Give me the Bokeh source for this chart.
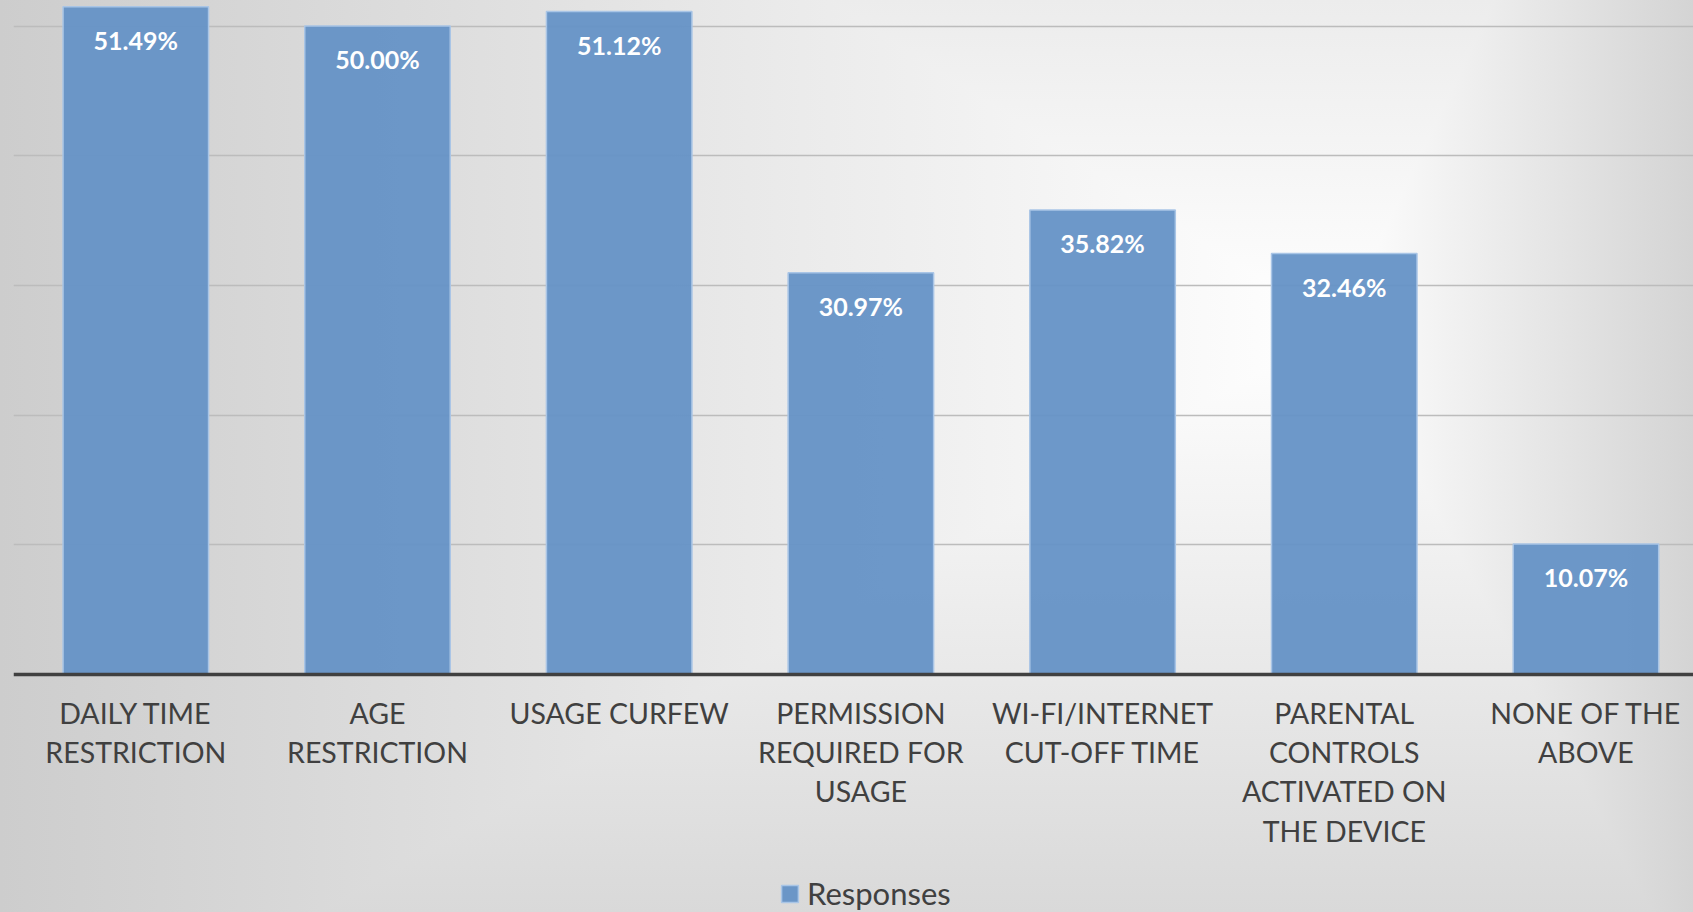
from bokeh.plotting import figure
from bokeh.models import (ColumnDataSource, Range1d, FixedTicker, Legend, LegendItem)
from bokeh.core.properties import value
from bokeh.embed import file_html
from bokeh.resources import INLINE

categories = [
    "DAILY TIME\nRESTRICTION",
    "AGE\nRESTRICTION",
    "USAGE CURFEW",
    "PERMISSION\nREQUIRED FOR\nUSAGE",
    "WI-FI/INTERNET\nCUT-OFF TIME",
    "PARENTAL\nCONTROLS\nACTIVATED ON\nTHE DEVICE",
    "NONE OF THE\nABOVE",
]
responses = [51.49, 50.00, 51.12, 30.97, 35.82, 32.46, 10.07]
series_name = "Responses"
grid_ticks = [10, 20, 30, 40, 50]

idx = list(range(len(categories)))
labels = [f"{v:.2f}%" for v in responses]
src = ColumnDataSource(dict(x=idx, top=responses, label=labels))

W, H = 1693, 912
p = figure(width=W, height=H, output_backend="svg", toolbar_location=None,
           x_range=Range1d(-0.506, 6.445), y_range=Range1d(-18.35, 51.97),
           min_border_left=13, min_border_right=0, min_border_top=0,
           min_border_bottom=0)
p.background_fill_color = None
p.border_fill_color = None
p.outline_line_color = None
p.styles = {
    "background-image": (
        "linear-gradient(90deg, #cdcdcd 0%, #ffffff 79%, #d4d4d4 100%), "
        "linear-gradient(180deg, #ececec 0%, #ffffff 36%, #d9d9d9 100%)"
    ),
    "background-blend-mode": "darken",
}

r = p.vbar(x="x", top="top", bottom=0, width=0.602, source=src,
           fill_color="#6592c6", fill_alpha=0.95,
           line_color="#a9c5e6", line_width=1.5)

p.text(x="x", y="top", text="label", source=src, y_offset=33,
       text_align="center", text_baseline="middle",
       text_color="white", text_font=value("Lato"), text_font_style="bold",
       text_font_size="25px")

p.yaxis.visible = False
p.xgrid.visible = False
p.ygrid.ticker = FixedTicker(ticks=grid_ticks)
p.ygrid.grid_line_color = "#bcbcbc"
p.ygrid.grid_line_width = 1.5

ax = p.xaxis[0]
ax.fixed_location = 0
ax.ticker = FixedTicker(ticks=idx)
ax.major_label_overrides = {i: c for i, c in zip(idx, categories)}
ax.major_tick_line_color = None
ax.minor_tick_line_color = None
ax.axis_line_color = "#404040"
ax.axis_line_width = 3.5
ax.major_label_text_font = "Lato"
ax.major_label_text_font_size = "28.5px"
ax.major_label_text_color = "#404040"
ax.major_label_text_line_height = 1.16
ax.major_label_standoff = 15

legend = Legend(items=[LegendItem(label=series_name, renderers=[r])],
                location=(766, 0), orientation="horizontal",
                background_fill_alpha=0, border_line_color=None,
                label_text_font="Lato", label_text_font_size="31px",
                label_text_color="#404040", glyph_width=21, glyph_height=21,
                label_standoff=7, padding=0, margin=0, spacing=0)
p.add_layout(legend)

open("out.html", "w").write(file_html(p, INLINE))
